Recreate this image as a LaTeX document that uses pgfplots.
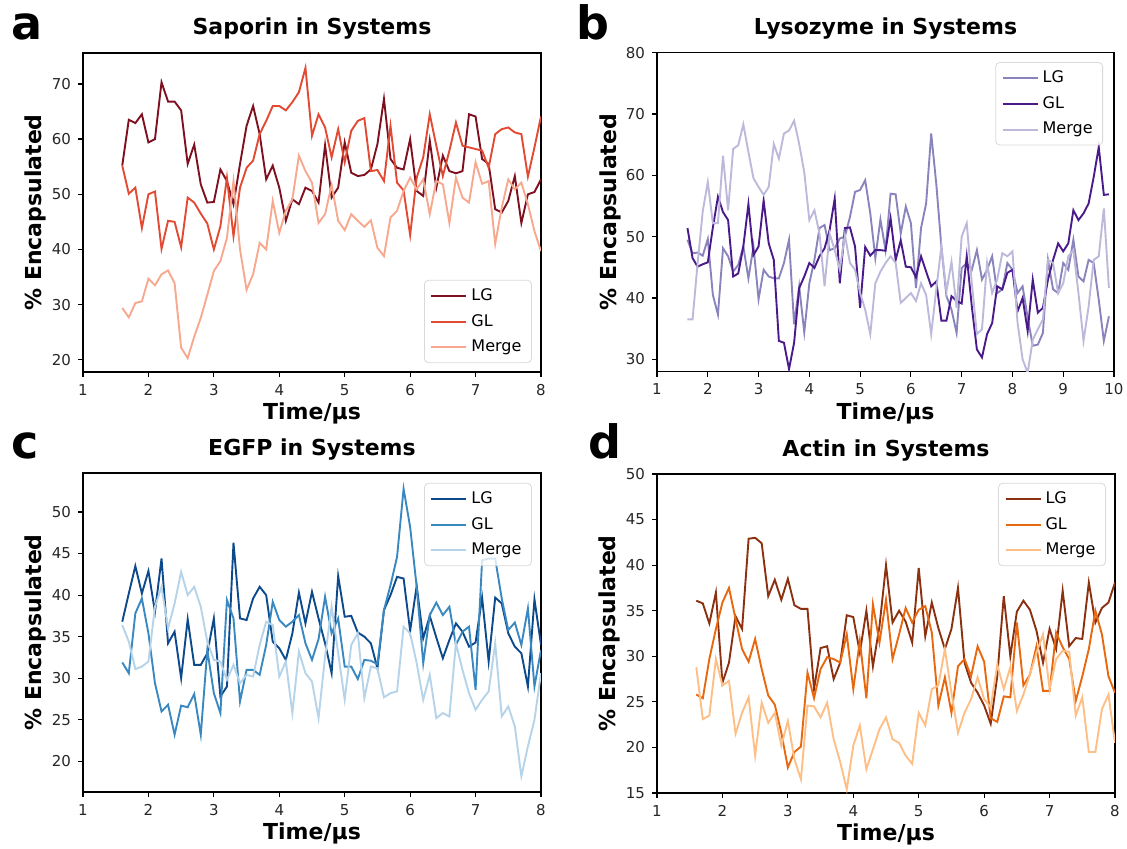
\documentclass[border=0pt]{standalone}
\usepackage{fontspec}
\setmainfont{DejaVu Sans}
\usepackage{pgfplots}
\usepackage{pgfplotstable}
\pgfplotsset{compat=1.18}

\definecolor{sapLG}{HTML}{7F1020}
\definecolor{sapGL}{HTML}{E34A33}
\definecolor{sapMG}{HTML}{F7A88E}
\definecolor{lysLG}{HTML}{8A84BD}
\definecolor{lysGL}{HTML}{4A1A8A}
\definecolor{lysMG}{HTML}{BCB9DA}
\definecolor{egfLG}{HTML}{0D4A8C}
\definecolor{egfGL}{HTML}{3A88C0}
\definecolor{egfMG}{HTML}{B5D3E9}
\definecolor{actLG}{HTML}{8C3110}
\definecolor{actGL}{HTML}{E8680F}
\definecolor{actMG}{HTML}{FDBF85}

\pgfplotstableread{
x LG GL Merge
1.6 55.2 55.2 29.4
1.7 63.5 50.1 27.7
1.8 62.9 51.2 30.3
1.9 64.5 43.9 30.6
2.0 59.4 50.0 34.7
2.1 60.0 50.5 33.5
2.2 70.3 40.1 35.5
2.3 66.8 45.2 36.2
2.4 66.8 45.0 33.9
2.5 65.2 40.4 22.2
2.6 55.5 49.4 20.3
2.7 59.0 48.5 24.2
2.8 51.8 46.5 27.6
2.9 48.5 44.7 31.8
3.0 48.6 40.0 36.1
3.1 54.5 44.2 37.9
3.2 52.4 53.0 42.1
3.3 48.2 42.4 52.4
3.4 55.5 51.2 40.0
3.5 62.4 54.8 32.7
3.6 66.0 56.1 35.5
3.7 60.9 60.9 41.2
3.8 52.7 63.3 40.0
3.9 55.2 66.0 48.8
4.0 51.2 66.0 43.0
4.1 45.2 65.2 47.0
4.2 49.1 66.7 49.1
4.3 48.2 68.5 57.0
4.4 51.2 72.9 54.2
4.5 50.6 60.6 52.1
4.6 48.5 64.5 44.8
4.7 58.9 62.1 46.4
4.8 49.4 56.7 51.7
4.9 51.2 61.8 45.2
5.0 59.4 55.8 43.5
5.1 53.9 61.5 46.4
5.2 53.3 63.3 45.2
5.3 53.5 63.8 44.1
5.4 54.5 54.2 45.3
5.5 59.1 54.4 40.3
5.6 67.3 52.4 38.8
5.7 56.4 62.4 45.8
5.8 54.8 52.1 47.0
5.9 54.5 50.7 50.6
6.0 60.0 42.6 53.0
6.1 50.6 53.0 50.9
6.2 49.7 56.7 52.7
6.3 59.7 64.5 46.4
6.4 51.2 58.8 52.4
6.5 57.0 53.3 51.8
6.6 54.2 57.9 44.8
6.7 53.8 63.0 53.0
6.8 54.2 58.8 49.4
6.9 64.5 58.5 48.5
7.0 64.1 58.2 55.8
7.1 56.4 57.9 51.9
7.2 55.5 54.8 52.4
7.3 47.3 60.9 41.0
7.4 46.7 61.8 47.6
7.5 48.8 62.1 52.7
7.6 53.3 61.2 50.9
7.7 44.8 60.9 52.1
7.8 50.0 53.2 48.2
7.9 50.4 58.5 43.3
8.0 52.7 64.1 39.7
}\saporin

\pgfplotstableread{
x LG GL Merge
1.6 49.5 51.4 36.5
1.7 47.3 46.5 36.5
1.8 47.4 45.1 45.7
1.9 46.9 45.5 54.1
2.0 49.6 45.8 58.9
2.1 40.5 51.5 52.2
2.2 37.3 56.5 52.2
2.3 48.1 54.0 63.2
2.4 46.8 52.7 54.3
2.5 44.3 43.5 64.3
2.6 45.4 44.0 64.9
2.7 48.4 48.4 68.3
2.8 43.2 55.3 63.8
2.9 48.4 47.0 59.5
3.0 39.8 48.4 58.1
3.1 44.6 55.9 56.8
3.2 43.5 48.9 58.1
3.3 43.2 46.2 65.1
3.4 43.2 33.0 62.7
3.5 45.7 32.7 66.8
3.6 49.5 28.4 67.3
3.7 35.7 32.7 68.9
3.8 41.9 41.6 65.1
3.9 34.4 43.5 60.5
4.0 42.4 45.7 52.7
4.1 46.2 44.9 54.3
4.2 51.4 46.8 50.5
4.3 51.9 48.1 41.9
4.4 47.8 51.1 50.5
4.5 48.1 56.2 47.8
4.6 49.7 42.4 44.6
4.7 50.0 51.4 50.3
4.8 53.2 51.5 45.7
4.9 57.3 48.4 44.6
5.0 57.6 38.4 40.8
5.1 59.2 48.3 38.1
5.2 53.8 46.9 34.1
5.3 46.5 47.8 42.4
5.4 52.8 47.8 44.3
5.5 47.8 47.7 45.7
5.6 57.0 53.0 46.8
5.7 56.9 46.2 45.7
5.8 50.5 49.4 39.2
5.9 54.9 45.1 40.0
6.0 52.2 45.0 40.8
6.1 41.6 43.4 39.5
6.2 51.4 46.8 42.4
6.3 55.4 44.3 40.5
6.4 66.8 41.9 34.1
6.5 58.6 42.7 41.4
6.6 48.4 36.3 48.4
6.7 40.3 36.3 41.1
6.8 38.1 40.3 45.9
6.9 34.3 39.5 38.4
7.0 44.9 39.1 50.0
7.1 45.7 46.8 52.2
7.2 44.6 38.6 42.4
7.3 47.8 31.6 34.1
7.4 43.0 30.3 34.9
7.5 44.6 34.1 45.7
7.6 46.8 35.9 40.8
7.7 40.8 41.9 43.0
7.8 41.4 41.4 47.3
7.9 45.7 44.1 46.8
8.0 44.6 44.6 47.6
8.1 40.8 37.8 36.0
8.2 41.9 40.0 30.0
8.3 36.8 34.6 27.8
8.4 32.2 43.0 33.2
8.5 32.4 37.6 34.9
8.6 34.3 38.4 36.5
8.7 46.2 43.0 46.2
8.8 41.4 46.2 45.7
8.9 40.8 48.9 40.8
9.0 45.7 47.6 42.4
9.1 44.6 48.9 46.8
9.2 49.5 54.3 47.8
9.3 43.5 52.7 40.8
9.4 42.7 53.8 33.0
9.5 46.2 55.4 38.6
9.6 45.7 59.7 46.2
9.7 39.7 64.6 46.8
9.8 33.0 56.8 54.6
9.9 37.0 56.9 41.6
}\lysozyme

\pgfplotstableread{
x LG GL Merge
1.6 36.8 31.9 36.4
1.7 40.2 30.6 34.4
1.8 43.5 37.8 31.1
1.9 40.2 39.6 31.4
2.0 42.9 35.4 32.0
2.1 38.0 29.4 38.6
2.2 44.4 26.0 41.0
2.3 34.2 26.8 36.0
2.4 35.6 23.2 39.0
2.5 30.0 26.7 42.8
2.6 37.1 26.5 40.0
2.7 31.6 28.1 41.0
2.8 31.6 23.2 38.6
2.9 33.0 33.4 34.4
3.0 37.2 28.2 32.2
3.1 27.8 25.8 32.0
3.2 29.0 39.4 29.8
3.3 46.3 37.2 31.6
3.4 37.2 27.2 29.4
3.5 37.0 31.0 30.4
3.6 39.6 31.0 30.2
3.7 41.0 30.4 34.0
3.8 40.0 34.0 36.8
3.9 34.4 39.2 36.4
4.0 33.6 37.0 30.2
4.1 32.2 36.2 32.0
4.2 35.4 36.8 25.8
4.3 40.3 37.6 33.2
4.4 36.6 34.2 30.6
4.5 40.4 32.2 29.6
4.6 37.2 34.7 25.2
4.7 34.2 39.8 32.6
4.8 30.6 35.4 38.6
4.9 42.3 37.2 33.0
5.0 37.4 31.4 27.4
5.1 37.5 31.4 34.0
5.2 35.5 29.9 35.4
5.3 35.0 32.2 27.6
5.4 34.2 32.1 31.4
5.5 31.2 31.7 31.2
5.6 38.2 38.2 27.7
5.7 40.0 41.2 28.2
5.8 42.2 44.6 28.4
5.9 42.0 52.8 36.2
6.0 35.7 48.2 35.4
6.1 41.1 41.0 31.8
6.2 34.8 31.8 27.4
6.3 37.5 37.6 30.4
6.4 34.9 39.1 25.2
6.5 32.4 37.6 25.8
6.6 34.6 38.6 25.4
6.7 36.6 34.0 34.2
6.8 35.6 35.6 31.0
6.9 33.8 36.2 28.2
7.0 34.3 28.6 26.2
7.1 39.7 44.2 27.4
7.2 32.0 44.4 28.4
7.3 39.7 44.4 34.2
7.4 39.0 39.6 25.4
7.5 35.4 35.8 26.6
7.6 33.8 36.7 24.2
7.7 33.0 34.0 18.2
7.8 29.0 38.4 21.8
7.9 39.5 29.0 25.0
8.0 34.0 33.4 30.6
}\egfp

\pgfplotstableread{
x LG GL Merge
1.6 36.1 25.8 28.8
1.7 35.8 25.4 23.1
1.8 33.6 29.7 23.5
1.9 37.0 33.0 29.7
2.0 27.1 35.9 26.8
2.1 29.3 37.5 27.3
2.2 34.4 34.1 21.5
2.3 33.0 30.8 23.8
2.4 42.9 29.4 25.5
2.5 43.0 31.9 19.1
2.6 42.4 28.6 24.9
2.7 36.6 25.7 22.7
2.8 38.4 24.7 23.8
2.9 36.2 21.6 20.2
3.0 38.5 17.8 22.9
3.1 35.6 19.5 18.7
3.2 35.2 20.1 16.5
3.3 35.2 28.2 24.6
3.4 26.4 25.4 24.5
3.5 30.9 28.6 23.3
3.6 31.1 29.9 24.9
3.7 27.5 29.7 20.9
3.8 29.3 29.3 18.4
3.9 34.5 32.4 15.4
4.0 34.3 26.4 20.2
4.1 30.4 31.7 22.4
4.2 35.0 25.4 17.6
4.3 28.9 35.7 19.8
4.4 33.3 31.5 22.0
4.5 40.0 36.2 23.3
4.6 33.7 29.7 20.9
4.7 35.0 32.4 20.5
4.8 33.8 35.3 19.1
4.9 31.5 33.7 18.2
5.0 39.7 35.1 23.8
5.1 32.2 35.5 22.4
5.2 35.9 32.6 26.4
5.3 33.1 24.6 26.8
5.4 30.8 27.7 30.8
5.5 33.0 23.8 26.0
5.6 37.5 28.9 21.6
5.7 29.3 29.7 23.8
5.8 27.1 27.8 25.3
5.9 26.0 31.1 27.7
6.0 24.6 29.4 25.3
6.1 22.6 23.2 24.4
6.2 27.8 22.8 29.1
6.3 36.6 25.6 26.4
6.4 30.0 25.5 28.8
6.5 34.9 33.7 24.0
6.6 36.1 26.8 25.8
6.7 35.1 28.0 28.0
6.8 32.8 31.1 30.4
6.9 29.3 26.2 32.4
7.0 33.0 26.2 26.4
7.1 30.8 32.6 29.7
7.2 37.2 31.0 30.6
7.3 31.1 29.7 30.5
7.4 32.0 25.1 23.5
7.5 31.9 27.8 25.5
7.6 38.1 30.8 19.5
7.7 33.7 35.0 19.5
7.8 35.3 32.4 24.2
7.9 35.9 27.8 25.8
8.0 38.1 26.0 20.5
}\actin

\pgfplotsset{
  panel/.style={
    scale only axis, width=229pt, height=159.5pt,
    xmin=1, xmax=8, xtick={1,...,8},
    axis line style={black, line width=0.8pt},
    tick align=outside, major tick length=2.5pt,
    tick style={black, line width=0.6pt},
    xtick pos=bottom, ytick pos=left,
    /pgf/number format/assume math mode=true,
    ticklabel style={font=\fontsize{7.5}{9}\selectfont, text=black!85},
    title style={font=\bfseries\fontsize{11}{13}\selectfont, at={(axis description cs:0.5,1)}, anchor=base, yshift=3pt},
    xlabel={Time/µs},
    ylabel={\% Encapsulated},
    xlabel style={font=\bfseries\fontsize{11}{13}\selectfont, at={(axis description cs:0.5,-0.150)}, anchor=base},
    ylabel style={font=\bfseries\fontsize{11}{13}\selectfont, at={(axis description cs:-0.103,0.5)}, anchor=center, rotate=0},
    legend cell align=left,
    legend style={font=\fontsize{8}{10}\selectfont, draw=black!15, rounded corners=2pt,
      fill=white, fill opacity=0.8, draw opacity=1, text opacity=1,
      inner xsep=3pt, inner ysep=2pt, row sep=1.5pt},
    legend image code/.code={\draw[#1, line width=1pt] (0pt,0pt) -- (17.5pt,0pt);},
    every axis plot/.append style={line width=0.95pt, mark=none},
    clip=true,
  }
}

\begin{document}
\begin{tikzpicture}
\useasboundingbox (0,0) rectangle (563.5pt,-424.5pt);

% panel letters
\node[anchor=base west, font=\bfseries\fontsize{23}{23}\selectfont, inner sep=0pt] at (5.5pt,-20pt) {a};
\node[anchor=base west, font=\bfseries\fontsize{23}{23}\selectfont, inner sep=0pt] at (288pt,-20pt) {b};
\node[anchor=base west, font=\bfseries\fontsize{23}{23}\selectfont, inner sep=0pt] at (5.5pt,-229pt) {c};
\node[anchor=base west, font=\bfseries\fontsize{23}{23}\selectfont, inner sep=0pt] at (294pt,-229pt) {d};

% a
\begin{axis}[panel, at={(41.5pt,-26.5pt)}, anchor=north west,
  title={Saporin in Systems}, ymin=17.8, ymax=75.6, ytick={20,30,...,70},
  legend style={at={(0.980,0.028)}, anchor=south east}]
\addplot[color=sapLG] table[x=x,y=LG] {\saporin};
\addplot[color=sapGL] table[x=x,y=GL] {\saporin};
\addplot[color=sapMG] table[x=x,y=Merge] {\saporin};
\legend{LG,GL,Merge}
\end{axis}

% b
\begin{axis}[panel, at={(328.5pt,-26.3pt)}, anchor=north west, width=228.5pt,
  title={Lysozyme in Systems}, xmax=10, xtick={1,...,10}, ymin=28, ymax=80, ytick={30,40,...,80},
  legend style={at={(0.976,0.970)}, anchor=north east}]
\addplot[color=lysLG] table[x=x,y=LG] {\lysozyme};
\addplot[color=lysGL] table[x=x,y=GL] {\lysozyme};
\addplot[color=lysMG] table[x=x,y=Merge] {\lysozyme};
\legend{LG,GL,Merge}
\end{axis}

% c
\begin{axis}[panel, at={(41.5pt,-236.5pt)}, anchor=north west,
  title={EGFP in Systems}, ymin=16.3, ymax=54.7, ytick={20,25,...,50},
  legend style={at={(0.980,0.969)}, anchor=north east}]
\addplot[color=egfLG] table[x=x,y=LG] {\egfp};
\addplot[color=egfGL] table[x=x,y=GL] {\egfp};
\addplot[color=egfMG] table[x=x,y=Merge] {\egfp};
\legend{LG,GL,Merge}
\end{axis}

% d
\begin{axis}[panel, at={(328.5pt,-237pt)}, anchor=north west,
  title={Actin in Systems}, ymin=15, ymax=50, ytick={15,20,...,50},
  legend style={at={(0.980,0.972)}, anchor=north east}]
\addplot[color=actLG] table[x=x,y=LG] {\actin};
\addplot[color=actGL] table[x=x,y=GL] {\actin};
\addplot[color=actMG] table[x=x,y=Merge] {\actin};
\legend{LG,GL,Merge}
\end{axis}
\end{tikzpicture}
\end{document}
